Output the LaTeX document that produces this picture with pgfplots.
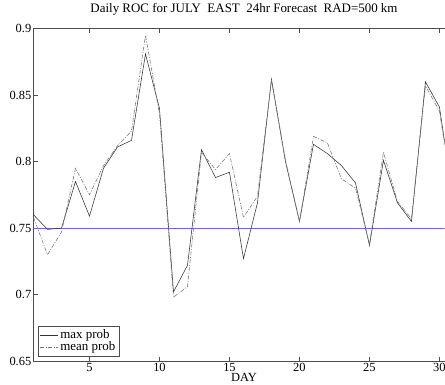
\documentclass[border=0pt]{standalone}
\usepackage{fontspec}
\setmainfont{Liberation Serif}
\usepackage{pgfplots}
\pgfplotsset{compat=1.18}
\pgfplotstableread{
day maxp meanp
1  0.760 0.758
2  0.749 0.730
3  0.750 0.747
4  0.785 0.795
5  0.759 0.775
6  0.795 0.797
7  0.811 0.812
8  0.816 0.823
9  0.881 0.895
10 0.840 0.836
11 0.702 0.698
12 0.722 0.706
13 0.809 0.807
14 0.788 0.794
15 0.792 0.806
16 0.727 0.758
17 0.769 0.774
18 0.862 0.861
19 0.800 0.801
20 0.755 0.755
21 0.813 0.819
22 0.806 0.814
23 0.797 0.787
24 0.784 0.780
25 0.737 0.738
26 0.801 0.807
27 0.769 0.770
28 0.755 0.757
29 0.860 0.857
30 0.841 0.838
31 0.770 0.770
}\roc
\begin{document}
\begin{tikzpicture}
\begin{axis}[
  at={(0,0)}, anchor=south west,
  scale only axis,
  width=411bp, height=332.3bp,
  xmin=1, xmax=30.36,
  ymin=0.65, ymax=0.9,
  axis x line*=box, axis y line*=left,
  axis line style={black!70, line width=0.5bp},
  xtick={5,10,15,20,25,30},
  ytick={0.65,0.7,0.75,0.8,0.85,0.9},
  yticklabels={0.65,0.7,0.75,0.8,0.85,0.9},
  tick align=inside,
  major tick length=4bp,
  tick style={black!70, line width=0.5bp},
  ticklabel style={font=\fontsize{12.5}{14}\selectfont},
  /pgf/number format/assume math mode=true,
  xticklabel style={inner sep=2bp},
  yticklabel style={inner sep=2bp},
  title={Daily ROC for JULY\ \ EAST\ \ 24hr Forecast\ \ RAD=500 km},
  title style={font=\fontsize{13}{14}\selectfont, at={(0.5,1)}, anchor=base, yshift=10.5bp, xshift=5bp},
  xlabel={DAY},
  xlabel style={font=\fontsize{12.5}{14}\selectfont, at={(axis description cs:0.5,0)}, anchor=north, yshift=-12bp, xshift=5bp, inner sep=0pt},
  legend style={at={(0.011,0.015)}, anchor=south west, draw=black!70, line width=0.5bp,
    font=\fontsize{13}{13}\selectfont, inner sep=1.5bp, row sep=-2.5bp, legend cell align=left},
  legend image code/.code={\draw[#1] (0bp,0bp) -- (18bp,0bp);},
  clip=true,
]
\addplot[blue!60, line width=0.6bp, forget plot] coordinates {(0,0.75) (32,0.75)};
\addplot[black!80, line width=0.55bp] table[x=day, y=maxp] {\roc};
\addlegendentry{max prob}
\addplot[black!55, line width=0.55bp, dash pattern=on 4bp off 1.5bp on 1bp off 1.5bp] table[x=day, y=meanp] {\roc};
\addlegendentry{mean prob}
\end{axis}
\pgfresetboundingbox
\useasboundingbox (-33.5bp,-23.8bp) rectangle (411.5bp,361bp);
\end{tikzpicture}
\end{document}
